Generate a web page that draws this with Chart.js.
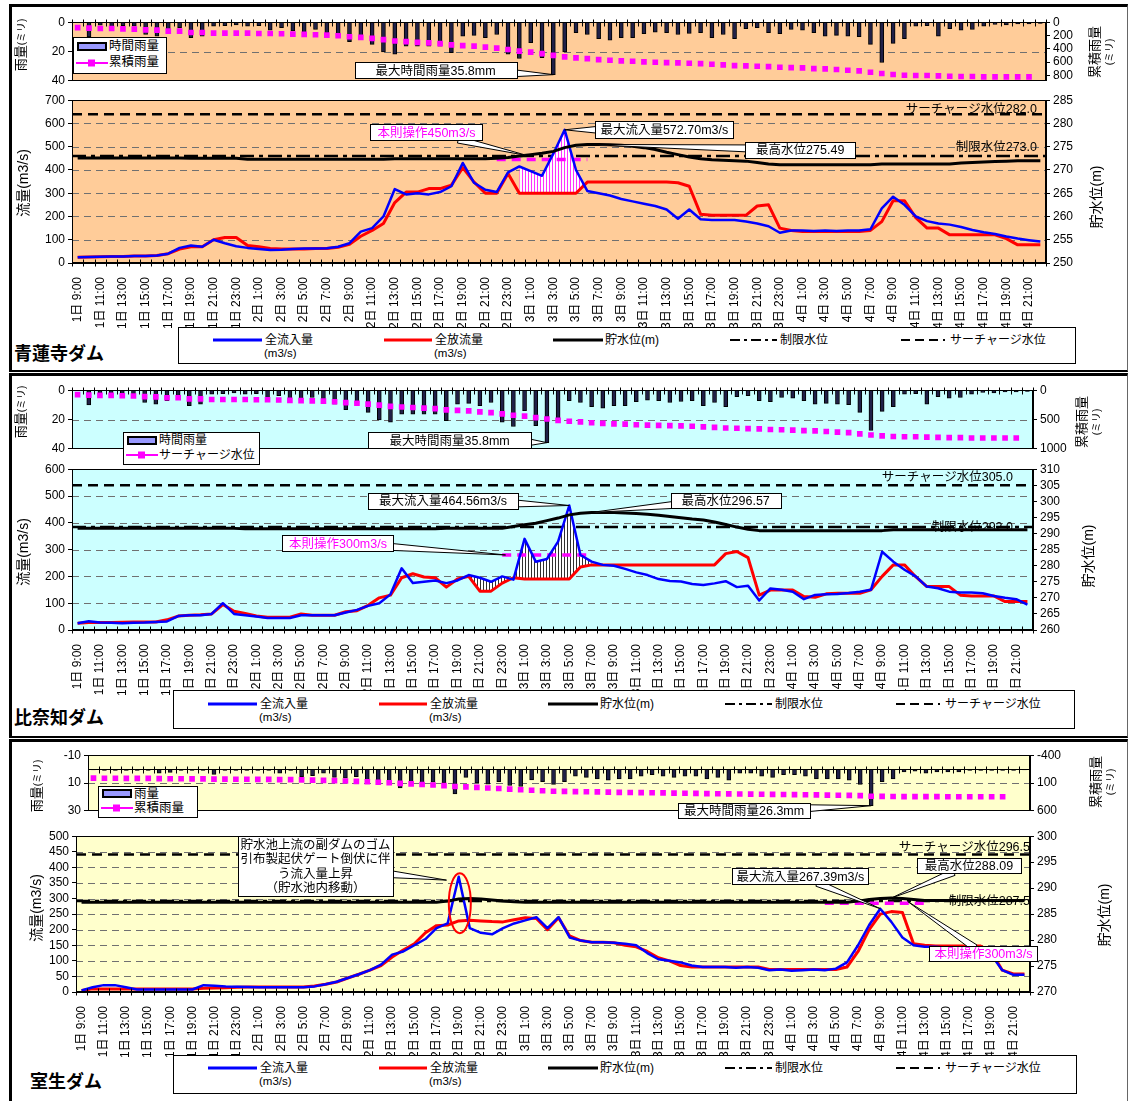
<!DOCTYPE html>
<html><head><meta charset="utf-8">
<script src="https://cdn.jsdelivr.net/npm/chart.js@4.4.1/dist/chart.umd.min.js"></script>
<style>
body{margin:0;background:#fff;width:1129px;height:1101px;position:relative;overflow:hidden;font-family:"Liberation Sans","Noto Sans CJK JP",sans-serif;}
.abs{position:absolute;white-space:nowrap;color:#000;}
.panel{position:absolute;left:9px;width:1115px;border-left:3px solid #000;border-top:3px solid #000;border-right:1px solid #666;border-bottom:2px solid #000;}
canvas{position:absolute;left:0;}
</style></head>
<body>
<div class="panel" style="top:4px;height:363px"></div>
<div class="panel" style="top:373px;height:360px"></div>
<div class="panel" style="top:739px;height:370px"></div>
<script>
// ---------------- DATA ----------------
const timeLabels = [
"1日 9:00","1日 10:00","1日 11:00","1日 12:00","1日 13:00","1日 14:00","1日 15:00","1日 16:00","1日 17:00","1日 18:00","1日 19:00","1日 20:00","1日 21:00","1日 22:00","1日 23:00",
"2日 0:00","2日 1:00","2日 2:00","2日 3:00","2日 4:00","2日 5:00","2日 6:00","2日 7:00","2日 8:00","2日 9:00","2日 10:00","2日 11:00","2日 12:00","2日 13:00","2日 14:00","2日 15:00","2日 16:00","2日 17:00","2日 18:00","2日 19:00","2日 20:00","2日 21:00","2日 22:00","2日 23:00",
"3日 0:00","3日 1:00","3日 2:00","3日 3:00","3日 4:00","3日 5:00","3日 6:00","3日 7:00","3日 8:00","3日 9:00","3日 10:00","3日 11:00","3日 12:00","3日 13:00","3日 14:00","3日 15:00","3日 16:00","3日 17:00","3日 18:00","3日 19:00","3日 20:00","3日 21:00","3日 22:00","3日 23:00",
"4日 0:00","4日 1:00","4日 2:00","4日 3:00","4日 4:00","4日 5:00","4日 6:00","4日 7:00","4日 8:00","4日 9:00","4日 10:00","4日 11:00","4日 12:00","4日 13:00","4日 14:00","4日 15:00","4日 16:00","4日 17:00","4日 18:00","4日 19:00","4日 20:00","4日 21:00","4日 22:00"
];

// 青蓮寺ダム
const shorenjiRain = [0,10,2,3,2.3,2.7,8.4,9.5,7.2,3.8, 10.6,9.5,2.7,2.3,1.8,2.7,2.3,5.4,3.8,6, 7.2,5,7.2,9.5,13.3,9.5,15.1,20.3,21.9,16.3, 16.3,16.3,16.3,20.8,9.5,9,10.6,8.4,21.9,24.8, 14,24.2,35.8,20.3,7.2,8.4,11.3,12.2,10.6,10.6, 7.9,6.8,7.2,8.4,7.7,7.2,10.6,8.4,11.3,4.5, 3.8,7.2,7.9,5,5.4,7.2,9.5,9,9.5,9.9, 15.1,27.5,14.4,11.3,2.7,2.3,9.5,4.5,5.4,5, 2.7,1.6,1.8,1.1,1.1,0.9];
const shorenjiCumRain = [81,90,95,95,100,105,115,120,135,135, 154,154,164,164,164,164,169,169,174,179, 184,189,193,203,218,228,243,262,282,292, 302,311,321,341,351,360,375,390,410,434, 449,473,498,521,536,546,561,571,581,586, 596,601,606,611,616,621,631,641,651,656, 661,666,676,681,686,696,701,711,721,731, 751,771,786,796,801,801,806,811,816,816, 821,821,821,821,821,null];
const shorenjiInflow = [25,26,27,28,28,30,30,32,40,65, 75,70,100,85,72,65,60,56,57,60, 62,62,63,70,85,135,150,200,318,295, 300,295,305,330,430,345,315,305,390,415, 395,375,470,572.7,400,310,300,290,275,265, 255,245,230,190,230,188,185,185,185,178, 170,158,130,140,140,138,140,138,140,140, 145,235,285,250,200,180,170,165,155,142, 132,125,114,105,98,92];
const shorenjiOutflow = [25,26,27,28,28,30,30,32,40,60, 70,70,100,110,110,75,70,62,60,60, 60,62,62,68,80,115,140,170,260,305, 305,320,320,335,410,348,300,300,385,300, 300,300,300,300,300,348,348,348,348,348, 348,348,348,345,330,210,205,205,205,205, 245,250,150,140,135,135,135,135,135,135, 140,178,268,268,195,150,150,121,121,121, 121,121,105,78,78,78];
const shorenjiLevel = [272.6,272.6,272.6,272.6,272.6,272.6,272.6,272.6,272.6,272.6, 272.5,272.5,272.5,272.5,272.5, 272.3,272.3,272.3,272.3,272.3,272.3,272.3,272.3,272.3,272.3,272.3,272.3,272.3, 272.4,272.4,272.4,272.4,272.4,272.4,272.4,272.4,272.4, 272.5,272.7,273.0,273.3,273.6,274.0,274.8,275.3,275.49,275.45,275.4, 275.3,275.1,274.8,274.4,273.8,273.3,272.8,272.4,272.2,272.1,272.0,271.9,271.6,271.3,271.1, 271.1,271.1,271.1,271.1,271.1,271.1,271.1,271.1, 271.3,271.3,271.3,271.3,271.3,271.3,271.3, 271.5,271.6,271.7,271.8,271.9,272.0,272.0,272.0];
const SHORENJI_SURCHARGE = 282.0, SHORENJI_LIMIT = 273.0, SHORENJI_RULE_FLOW = 445;
const shorenjiRuleSpan = [37, 45], shorenjiCutSpan = [39, 45];

// 比奈知ダム
const hinachiRain = [0,10,2,3,2.3,2.7,8.4,9.5,7.2,3.8, 10.6,9.5,2.7,2.3,1.8,2.7,2.3,5.4,3.8,6, 7.2,5,7.2,9.5,13.3,9.5,15.1,20.3,21.9,16.3, 16.3,16.3,16.3,20.8,9.5,9,10.6,8.4,21.9,24.8, 14,24.2,35.8,20.3,7.2,8.4,11.3,12.2,10.6,10.6, 7.9,6.8,7.2,8.4,7.7,7.2,10.6,8.4,11.3,4.5, 3.8,7.2,7.9,5,5.4,7.2,9.5,9,9.5,9.9, 15.1,27.5,14.4,11.3,2.7,2.3,9.5,4.5,5.4,5, 2.7,1.6,1.8,1.1,1.1,0.9];
const hinachiCumRain = [75,84,89,89,94,99,109,114,129,129, 148,148,158,158,158,158,163,163,168,173, 178,183,187,197,212,222,237,256,276,286, 296,305,315,335,345,354,369,384,404,428, 443,467,492,515,530,540,555,565,575,580, 590,595,600,605,610,615,625,635,645,650, 655,660,670,675,680,690,695,705,715,725, 745,765,780,790,795,795,800,805,810,810, 815,815,815,815,815,null];
const hinachiInflow = [25,33,28,27,25,27,28,30,32,52, 55,55,60,100,60,55,50,45,45,45, 55,55,55,55,65,75,90,100,133,230, 175,180,185,175,185,205,195,180,200,188, 340,255,265,330,464.56,280,255,243,240,228, 215,205,190,183,181,172,168,174,182,160, 165,110,155,150,143,115,131,133,134,138, 143,150,292,255,225,200,162,156,143,140, 140,137,127,120,115,95];
const hinachiOutflow = [25,28,28,28,29,30,30,30,38,52, 55,57,60,95,70,62,52,48,48,48, 60,55,55,55,68,72,92,120,130,195, 210,198,195,160,190,200,145,145,175,195, 190,190,190,190,190,235,243,243,243,243, 243,243,243,243,243,243,243,243,285,293, 270,130,149,149,149,125,122,135,137,137, 137,150,200,243,243,199,162,162,162,130, 127,127,127,106,106,106];
const hinachiLevel = [291.6,291.6,291.6,291.6,291.6,291.6,291.6,291.6,291.6,291.6,291.6,291.6,291.6,291.6,291.6, 291.5,291.5,291.5,291.5,291.5,291.5,291.5,291.5,291.5,291.5,291.5,291.5,291.5,291.5,291.5,291.5,291.5,291.5, 291.6,291.6,291.6,291.6,291.6,291.6, 292.2,292.7,293.2,294.0,294.8,295.8,296.3,296.57,296.55,296.5, 296.4,296.2,296.0,295.7,295.3,294.9,294.5,294.2,293.6,292.8,292.0,291.3,290.9, 290.9,290.9,290.9,290.9,290.9,290.9,290.9,290.9,290.9,290.9,290.9, 291.2,291.2,291.2,291.2,291.2,291.2,291.2,291.2,291.2,291.2,291.2,291.2,291.2];
const HINACHI_SURCHARGE = 305.0, HINACHI_LIMIT = 292.0, HINACHI_RULE_FLOW = 280;
const hinachiRuleSpan = [38, 46], hinachiCutSpan = [35, 46];

// 室生ダム
const murouRain = [0.5,1,1,1,1,1,3,2.4,1,1, 1,3.8,1,1,1,1,1,3,1,5.4, 4.7,3,6,6.6,5.4,7.8,8.5,9,13.6,9, 10,9.4,10,17.9,6,10,10.8,9,11.8,12.5, 7.8,9,11,9,5,6,7,8,7,7, 5,4,5,6,5,5,7,6,8,3, 3,5,6,4,4,5,7,7,7,8, 11,26.3,9,7,2,1.5,3,2,2,2, 1,1,1,1,1,0.5];
const murouCumRain = [13,14,15,16,17,18,21,23,24,25, 26,30,31,32,33,34,35,38,39,44, 49,52,58,64,70,77,86,95,108,117, 127,136,146,163,169,179,190,199,210,222, 230,239,248,252,255,258,261,265,268,271, 274,276,279,282,284,287,290,293,296,298, 299,302,304,306,308,311,314,317,320,323, 327,338,341,343,344,344,345,346,347,347, 348,348,348,348,null,null];
const murouInflow = [5,15,22,22,15,8,8,8,8,8, 8,22,20,18,17,16,15,15,15,15, 15,18,25,33,45,57,70,88,120,130, 150,170,205,220,370,205,190,185,205,220, 230,240,205,240,175,165,160,160,158,155, 150,125,105,100,95,85,80,80,80,78, 80,78,70,72,68,70,72,70,75,95, 150,215,267.39,225,175,150,145,145,142,140, 140,138,120,70,55,55];
const murouOutflow = [5,10,10,10,10,10,10,10,10,10, 10,12,13,14,15,16,16,16,16,16, 16,19,25,32,45,57,70,85,112,135, 155,190,213,215,228,230,228,226,225,232, 238,236,200,238,180,165,160,160,158,150, 145,130,110,100,85,80,80,80,80,80, 80,80,72,72,72,72,72,72,72,80, 130,200,250,258,255,155,150,148,148,148, 148,148,130,70,58,58];
const murouLevel = [287.3,287.3,287.3,287.3,287.3,287.3,287.3,287.3,287.3,287.3,287.3,287.3,287.3,287.3,287.3,287.3,287.3,287.3,287.3,287.3,287.3,287.3,287.3,287.3,287.3,287.3,287.3,287.3,287.3,287.3,287.3,287.3,287.3, 287.5,287.9,288.0,287.9,287.7,287.5,287.4, 287.3,287.3,287.3,287.3,287.3,287.3,287.3,287.3,287.3,287.3,287.3,287.3,287.3,287.3,287.3,287.3,287.3,287.3,287.3,287.3,287.3,287.3,287.3,287.3,287.3,287.3,287.3,287.3,287.3,287.3, 287.5,287.8,288.0,288.09,288.0,287.8, 287.6,287.6,287.6,287.6,287.6,287.6,287.6,287.6,287.6,287.6];
const MUROU_SURCHARGE = 296.5, MUROU_LIMIT = 287.5, MUROU_RULE_FLOW = 285;
const murouRuleSpan = [67, 76], murouCutSpan = [68, 74];

// ---------------- RENDERING ----------------
const FONT = '"Liberation Sans","Noto Sans CJK JP",sans-serif';
const W = 1129;
Chart.defaults.animation = false;
Chart.defaults.events = [];
Chart.defaults.font.family = FONT;
Chart.defaults.color = '#000';

function span(arr, r) { return arr.map((v, i) => (i >= r[0] && i <= r[1]) ? v : null); }
function constSpan(value, r) { return timeLabels.map((_, i) => (i >= r[0] && i <= r[1]) ? value : null); }

function hatch(color, bg) {
  const c = document.createElement('canvas'); c.width = 3; c.height = 2;
  const g = c.getContext('2d');
  g.fillStyle = bg; g.fillRect(0, 0, 3, 2);
  g.fillStyle = color; g.fillRect(0, 0, 1, 2);
  return g.createPattern(c, 'repeat');
}

function drawCallout(chart, c) {
  const { ctx, scales } = chart;
  const xs = scales.x, ya = scales[c.axis || 'y'], ta = scales[c.taxis || 'y'];
  const cx = xs.getPixelForValue(c.ix), cy = ya.getPixelForValue(c.v);
  const tx = xs.getPixelForValue(c.tix), ty = ta.getPixelForValue(c.tv);
  const hw = c.w / 2, hh = c.h / 2;
  ctx.save();
  ctx.setLineDash([]); ctx.lineWidth = 1; ctx.strokeStyle = '#000'; ctx.fillStyle = '#fff';
  const ang = Math.atan2(ty - cy, tx - cx);
  const ca = Math.abs(Math.cos(ang)) || 1e-9, sa = Math.abs(Math.sin(ang)) || 1e-9;
  const t = Math.min(hw / ca, hh / sa);
  const ex = cx + Math.cos(ang) * (t - 3), ey = cy + Math.sin(ang) * (t - 3);
  const bw = c.wedge || 3.5;
  const px = -Math.sin(ang) * bw, py = Math.cos(ang) * bw;
  ctx.beginPath(); ctx.moveTo(ex + px, ey + py); ctx.lineTo(tx, ty); ctx.lineTo(ex - px, ey - py); ctx.closePath();
  ctx.fill(); ctx.stroke();
  const L = Math.round(cx - hw) + 0.5, T = Math.round(cy - hh) + 0.5;
  ctx.fillRect(L, T, c.w, c.h); ctx.strokeRect(L, T, c.w, c.h);
  ctx.fillStyle = c.color || '#000';
  ctx.font = (c.size || 12.5) + 'px ' + FONT; ctx.textAlign = 'center'; ctx.textBaseline = 'middle';
  const lh = c.lh || 14, n = c.lines.length;
  c.lines.forEach((s, k) => ctx.fillText(s, cx, cy + (k - (n - 1) / 2) * lh + 1));
  ctx.restore();
}

function makeDecor(cfg) {
  return {
    id: 'decor',
    beforeDraw(chart) {
      const { ctx, chartArea: a } = chart;
      ctx.save(); ctx.fillStyle = cfg.bg; ctx.fillRect(a.left, a.top, a.right - a.left, a.bottom - a.top); ctx.restore();
    },
    beforeDatasetsDraw(chart) {
      const { ctx, chartArea: a, scales } = chart;
      ctx.save();
      ctx.strokeStyle = '#707070'; ctx.lineWidth = 1; ctx.setLineDash([7, 5]);
      scales.y.ticks.forEach(tk => {
        const y = Math.round(scales.y.getPixelForValue(tk.value)) + 0.5;
        if (y <= a.top + 2 || y >= a.bottom - 2) return;
        ctx.beginPath(); ctx.moveTo(a.left, y); ctx.lineTo(a.right, y); ctx.stroke();
      });
      (cfg.refLines || []).forEach(r => {
        const y = scales[r.axis].getPixelForValue(r.value);
        ctx.setLineDash(r.dash); ctx.lineWidth = r.width; ctx.strokeStyle = '#000';
        ctx.beginPath(); ctx.moveTo(a.left, y); ctx.lineTo(a.right, y); ctx.stroke();
      });
      ctx.setLineDash([]);
      (cfg.refTexts || []).forEach(r => {
        const y = scales[r.axis].getPixelForValue(r.value) + r.dy;
        ctx.font = '12.5px ' + FONT; ctx.fillStyle = '#000'; ctx.textAlign = 'right'; ctx.textBaseline = 'middle';
        ctx.fillText(r.text, a.right - r.dxRight, y);
      });
      ctx.restore();
    },
    afterDatasetsDraw(chart) {
      const { ctx, chartArea: a, scales } = chart;
      ctx.save();
      ctx.setLineDash([]); ctx.strokeStyle = '#000'; ctx.lineWidth = 1;
      ctx.strokeRect(Math.round(a.left) + 0.5, Math.round(a.top) + 0.5, Math.round(a.right - a.left) - 1, Math.round(a.bottom - a.top) - 1);
      const xs = scales.x, n = timeLabels.length;
      const half = (xs.getPixelForValue(1) - xs.getPixelForValue(0)) / 2;
      const y0 = cfg.rain ? Math.round(scales.y.getPixelForValue(0)) + 0.5 : Math.round(a.bottom) - 0.5;
      ctx.beginPath();
      ctx.moveTo(a.left, y0); ctx.lineTo(a.right, y0);
      for (let i = 0; i <= n; i++) {
        const x = Math.round(xs.getPixelForValue(i) - half) + 0.5;
        ctx.moveTo(x, y0 - 3); ctx.lineTo(x, y0 + 4);
      }
      ctx.stroke();
      ctx.restore();
      (cfg.ellipses || []).forEach(e => {
        const cx = xs.getPixelForValue(e.ix), cy = scales.y.getPixelForValue(e.v);
        ctx.save(); ctx.strokeStyle = '#ff0000'; ctx.lineWidth = 2; ctx.setLineDash([]);
        ctx.beginPath(); ctx.ellipse(cx, cy, e.rx, e.ry, 0, 0, Math.PI * 2); ctx.stroke(); ctx.restore();
      });
      (cfg.callouts || []).forEach(c => drawCallout(chart, c));
    }
  };
}

function addCanvas(g) {
  const cv = document.createElement('canvas');
  cv.width = W; cv.height = g.h;
  cv.style.top = g.top + 'px'; cv.style.width = W + 'px'; cv.style.height = g.h + 'px';
  document.body.appendChild(cv);
  return cv;
}

function yAxis(pos, g, min, max, step, reverse) {
  return {
    position: pos, min: min, max: max, reverse: !!reverse,
    ticks: { stepSize: step, includeBounds: false, autoSkip: false, font: { size: 12, family: FONT }, color: '#000', padding: 3,
             callback: v => String(v) },
    grid: { drawOnChartArea: false, drawTicks: true, tickLength: 4, color: '#000' },
    border: { display: true, color: '#000' },
    afterFit: s => { s.width = pos === 'left' ? g.left : (W - g.right); }
  };
}

function buildRain(g, d) {
  const cv = addCanvas(g);
  new Chart(cv, {
    type: 'bar',
    data: {
      labels: timeLabels,
      datasets: [
        { type: 'line', label: d.cumLabel, data: d.cum, yAxisID: 'y2', showLine: false, pointStyle: 'rect', pointRadius: 4, pointBackgroundColor: '#ff00ff', pointBorderColor: '#ff00ff', pointBorderWidth: 0, order: 1 },
        { type: 'bar', label: d.rainLabel, data: d.rain, yAxisID: 'y', backgroundColor: '#202048', borderColor: '#000', borderWidth: 1, barThickness: 4, order: 2 }
      ]
    },
    options: {
      responsive: false, maintainAspectRatio: false,
      layout: { padding: { top: 10, bottom: 10, left: 0, right: 0 } },
      plugins: { legend: { display: false }, tooltip: { enabled: false } },
      scales: {
        x: { display: false, offset: true },
        y: yAxis('left', g, d.yMin, d.yMax, d.yStep, true),
        y2: yAxis('right', g, d.y2Min, d.y2Max, d.y2Step, true)
      }
    },
    plugins: [makeDecor({ bg: d.bg, rain: true, callouts: d.callouts })]
  });
}

function buildFlow(g, d) {
  const cv = addCanvas(g);
  const pat = hatch(d.hatchColor, '#ffffff');
  new Chart(cv, {
    type: 'line',
    data: {
      labels: timeLabels,
      datasets: [
        { label: 'cut', data: span(d.inflow, d.cutSpan), yAxisID: 'y', borderColor: 'rgba(0,0,0,0)', borderWidth: 1, pointRadius: 0, backgroundColor: pat, fill: { target: 2, above: pat, below: 'rgba(0,0,0,0)' }, order: 10 },
        { label: '本則操作', data: constSpan(d.ruleFlow, d.ruleSpan), yAxisID: 'y', borderColor: '#ff00ff', borderWidth: 3.5, borderDash: [9, 6], pointRadius: 0, fill: false, order: 6 },
        { label: '全放流量', data: d.outflow, yAxisID: 'y', borderColor: '#ff0000', borderWidth: 3, pointRadius: 0, fill: false, borderJoinStyle: 'round', order: 3 },
        { label: '全流入量', data: d.inflow, yAxisID: 'y', borderColor: '#0000ff', borderWidth: 2.5, pointRadius: 0, fill: false, borderJoinStyle: 'round', order: 2 },
        { label: '貯水位', data: d.level, yAxisID: 'y2', borderColor: '#000', borderWidth: 3, pointRadius: 0, fill: false, borderJoinStyle: 'round', order: 1 }
      ]
    },
    options: {
      responsive: false, maintainAspectRatio: false,
      layout: { padding: { top: 10, bottom: 0, left: 0, right: 0 } },
      plugins: { legend: { display: false }, tooltip: { enabled: false } },
      scales: {
        x: {
          type: 'category', offset: true,
          grid: { display: false },
          border: { display: true, color: '#000' },
          ticks: { autoSkip: false, minRotation: 90, maxRotation: 90, padding: 6, font: { size: 12, family: FONT }, color: '#000',
                   callback: (v, i) => (i % 2 === 0 ? timeLabels[i] : '') },
          afterFit: s => { s.height = g.xh; }
        },
        y: yAxis('left', g, d.yMin, d.yMax, d.yStep, false),
        y2: yAxis('right', g, d.y2Min, d.y2Max, d.y2Step, false)
      }
    },
    plugins: [makeDecor({ bg: d.bg, rain: false, refLines: d.refLines, refTexts: d.refTexts, callouts: d.callouts, ellipses: d.ellipses })]
  });
}

const SUR_DASH = [10, 6], LIM_DASH = [14, 5, 4, 5];

// ---- Panel 1: 青蓮寺ダム ----
buildRain({ top: 12, h: 79, left: 72, right: 1046 }, {
  bg: '#FFCC99', rain: shorenjiRain, cum: shorenjiCumRain, rainLabel: '時間雨量', cumLabel: '累積雨量',
  yMin: 0, yMax: 40, yStep: 20, y2Min: 0, y2Max: 880, y2Step: 200,
  callouts: [{ lines: ['最大時間雨量35.8mm'], ix: 31.6, v: 32.9, w: 162, h: 16, tix: 42, tv: 35.8 }]
});
buildFlow({ top: 90, h: 243, left: 72, right: 1046, xh: 70 }, {
  bg: '#FFCC99', inflow: shorenjiInflow, outflow: shorenjiOutflow, level: shorenjiLevel,
  cutSpan: shorenjiCutSpan, ruleSpan: shorenjiRuleSpan, ruleFlow: SHORENJI_RULE_FLOW, hatchColor: '#ff33ff',
  yMin: 0, yMax: 700, yStep: 100, y2Min: 250, y2Max: 285, y2Step: 5,
  refLines: [{ axis: 'y2', value: SHORENJI_SURCHARGE, dash: SUR_DASH, width: 2.5 }, { axis: 'y2', value: SHORENJI_LIMIT, dash: LIM_DASH, width: 2.5 }],
  refTexts: [{ text: 'サーチャージ水位' + SHORENJI_SURCHARGE.toFixed(1), axis: 'y2', value: SHORENJI_SURCHARGE, dy: -5, dxRight: 9 },
             { text: '制限水位' + SHORENJI_LIMIT.toFixed(1), axis: 'y2', value: SHORENJI_LIMIT, dy: -8, dxRight: 9 }],
  callouts: [
    { lines: ['本則操作450m3/s'], color: '#ff00ff', ix: 30.8, v: 562, w: 112, h: 16, tix: 39.7, tv: 462 },
    { lines: ['最大流入量572.70m3/s'], ix: 51.8, v: 573, w: 138, h: 17, tix: 43, tv: 572.7 },
    { lines: ['最高水位275.49'], ix: 63.8, v: 487, w: 110, h: 16, tix: 45, tv: 275.49, taxis: 'y2' }
  ]
});

// ---- Panel 2: 比奈知ダム ----
buildRain({ top: 380, h: 79, left: 72, right: 1033 }, {
  bg: '#CCFFFF', rain: hinachiRain, cum: hinachiCumRain, rainLabel: '時間雨量', cumLabel: 'サーチャージ水位',
  yMin: 0, yMax: 40, yStep: 20, y2Min: 0, y2Max: 1000, y2Step: 500,
  callouts: [{ lines: ['最大時間雨量35.8mm'], ix: 33.3, v: 34.2, w: 163, h: 16, tix: 42, tv: 35.8 }]
});
buildFlow({ top: 459, h: 241, left: 72, right: 1033, xh: 70 }, {
  bg: '#CCFFFF', inflow: hinachiInflow, outflow: hinachiOutflow, level: hinachiLevel,
  cutSpan: hinachiCutSpan, ruleSpan: hinachiRuleSpan, ruleFlow: HINACHI_RULE_FLOW, hatchColor: '#303030',
  yMin: 0, yMax: 600, yStep: 100, y2Min: 260, y2Max: 310, y2Step: 5,
  refLines: [{ axis: 'y2', value: HINACHI_SURCHARGE, dash: SUR_DASH, width: 2.5 }, { axis: 'y2', value: HINACHI_LIMIT, dash: LIM_DASH, width: 2.5 }],
  refTexts: [{ text: 'サーチャージ水位' + HINACHI_SURCHARGE.toFixed(1), axis: 'y2', value: HINACHI_SURCHARGE, dy: -8, dxRight: 20 },
             { text: '制限水位' + HINACHI_LIMIT.toFixed(1), axis: 'y2', value: HINACHI_LIMIT, dy: 0, dxRight: 20 }],
  callouts: [
    { lines: ['最大流入量464.56m3/s'], ix: 32.7, v: 482.7, w: 150, h: 16, tix: 44, tv: 464.56 },
    { lines: ['最高水位296.57'], ix: 58, v: 484.5, w: 110, h: 15, tix: 46, tv: 296.57, taxis: 'y2' },
    { lines: ['本則操作300m3/s'], color: '#ff00ff', ix: 23.3, v: 324, w: 111, h: 16, tix: 38.3, tv: 280 }
  ]
});

// ---- Panel 3: 室生ダム ----
buildRain({ top: 745, h: 76, left: 88, right: 1030 }, {
  bg: '#FFFFCC', rain: murouRain, cum: murouCumRain, rainLabel: '雨量', cumLabel: '累積雨量',
  yMin: -10, yMax: 30, yStep: 20, y2Min: -400, y2Max: 600, y2Step: 500,
  callouts: [{ lines: ['最大時間雨量26.3mm'], ix: 59.4, v: 30, w: 132, h: 15, tix: 71, tv: 26.3 }]
});
buildFlow({ top: 826, h: 236, left: 76, right: 1030, xh: 70 }, {
  bg: '#FFFFCC', inflow: murouInflow, outflow: murouOutflow, level: murouLevel,
  cutSpan: murouCutSpan, ruleSpan: murouRuleSpan, ruleFlow: MUROU_RULE_FLOW, hatchColor: '#ff33ff',
  yMin: 0, yMax: 500, yStep: 50, y2Min: 270, y2Max: 300, y2Step: 5,
  refLines: [{ axis: 'y2', value: MUROU_SURCHARGE, dash: SUR_DASH, width: 2.5 }, { axis: 'y2', value: MUROU_LIMIT, dash: LIM_DASH, width: 2.5 }],
  refTexts: [{ text: 'サーチャージ水位' + MUROU_SURCHARGE.toFixed(1), axis: 'y2', value: MUROU_SURCHARGE, dy: -7, dxRight: 0 },
             { text: '制限水位' + MUROU_LIMIT.toFixed(1), axis: 'y2', value: MUROU_LIMIT, dy: 0, dxRight: 0 }],
  ellipses: [{ ix: 34.1, v: 285, rx: 11, ry: 30 }],
  callouts: [
    { lines: ['貯水池上流の副ダムのゴム', '引布製起伏ゲート倒伏に伴', 'う流入量上昇', '（貯水池内移動）'], ix: 21.1, v: 404, w: 155, h: 60, tix: 32.9, tv: 359, lh: 14.5 },
    { lines: ['最大流入量267.39m3/s'], ix: 64.8, v: 372, w: 136, h: 16, tix: 72, tv: 267.39 },
    { lines: ['最高水位288.09'], ix: 80, v: 405, w: 104, h: 15, tix: 73, tv: 288.09, taxis: 'y2' },
    { lines: ['本則操作300m3/s'], color: '#ff00ff', ix: 81.3, v: 123, w: 108, h: 15, tix: 74.5, tv: 290 }
  ]
});

// ---------------- HTML TEXT (titles, legends) ----------------
function addDiv(html, css) {
  const d = document.createElement('div'); d.className = 'abs'; d.innerHTML = html;
  Object.assign(d.style, css); d.style.zIndex = 5; document.body.appendChild(d); return d;
}
function vTitle(html, x, y, size) {
  addDiv(html, { left: x + 'px', top: y + 'px', fontSize: size + 'px', lineHeight: '1.1', textAlign: 'center', transform: 'translate(-50%,-50%) rotate(-90deg)' });
}
function lineSvg(x1, x2, y, color, width, dash) {
  addDiv('<svg width="' + (x2 - x1) + '" height="10"><line x1="0" y1="5" x2="' + (x2 - x1) + '" y2="5" stroke="' + color + '" stroke-width="' + width + '"' + (dash ? ' stroke-dasharray="' + dash + '"' : '') + '/></svg>',
    { left: x1 + 'px', top: (y - 5) + 'px', lineHeight: '0' });
}
function txt(s, x, y, size, extra) { addDiv(s, Object.assign({ left: x + 'px', top: (y - size * 0.6) + 'px', fontSize: size + 'px', lineHeight: (size * 1.2) + 'px' }, extra || {})); }
function box(x, y, w, h) { addDiv('', { left: x + 'px', top: y + 'px', width: w + 'px', height: h + 'px', border: '1px solid #000', background: '#fff' }); }

function bottomLegend(bx, by, bw, bh, dx, r1, r2) {
  box(bx, by, bw, bh);
  lineSvg(213 + dx, 262 + dx, r1, '#0000ff', 3); txt('全流入量', 265 + dx, r1, 12); txt('(m3/s)', 264 + dx, r2, 11.5);
  lineSvg(384 + dx, 432 + dx, r1, '#ff0000', 3); txt('全放流量', 435 + dx, r1, 12); txt('(m3/s)', 434 + dx, r2, 11.5);
  lineSvg(553 + dx, 603 + dx, r1, '#000', 3); txt('貯水位(m)', 605 + dx, r1, 12);
  lineSvg(730 + dx, 777 + dx, r1, '#000', 2, '10 4 3 4'); txt('制限水位', 780 + dx, r1, 12);
  lineSvg(901 + dx, 945 + dx, r1, '#000', 2, '9 5'); txt('サーチャージ水位', 950 + dx, r1, 12);
}
function rainLegend(bx, by, bw, bh, l1, l2, fs) {
  box(bx, by, bw, bh);
  const r1 = by + bh * 0.28, r2 = by + bh * 0.74;
  addDiv('<svg width="30" height="10"><rect x="1" y="1" width="28" height="7" fill="#9999ff" stroke="#000" stroke-width="2"/></svg>', { left: (bx + 4) + 'px', top: (r1 - 5) + 'px', lineHeight: '0' });
  txt(l1, bx + 36, r1, fs);
  addDiv('<svg width="32" height="10"><line x1="0" y1="5" x2="32" y2="5" stroke="#ff00ff" stroke-width="2"/><rect x="12" y="1.5" width="7" height="7" fill="#ff00ff"/></svg>', { left: (bx + 3) + 'px', top: (r2 - 5) + 'px', lineHeight: '0' });
  txt(l2, bx + 36, r2, fs);
}
const small = s => '<span style="font-size:10px">' + s + '</span>';

// Panel 1
vTitle('雨量' + small('(ミリ)'), 21, 45, 13);
vTitle('流量(m3/s)', 24, 183, 14);
vTitle('累積雨量<br>' + small('(ミリ)'), 1102, 52, 13);
vTitle('貯水位(m)', 1097, 197, 14);
rainLegend(73, 37, 92, 35, '時間雨量', '累積雨量', 12.5);
bottomLegend(178, 327, 896, 35, 0, 340, 354);
addDiv('青蓮寺ダム', { left: '14px', top: '340px', fontSize: '18px', fontWeight: 'bold', lineHeight: '24px', fontFamily: '"Noto Sans CJK JP"' });

// Panel 2
vTitle('雨量' + small('(ミリ)'), 21, 412, 13);
vTitle('流量(m3/s)', 24, 552, 14);
vTitle('累積雨量<br>' + small('(ミリ)'), 1089, 422, 13);
vTitle('貯水位(m)', 1089, 556, 14);
rainLegend(123, 432, 135, 31, '時間雨量', 'サーチャージ水位', 12);
bottomLegend(173, 690, 900, 37, -5, 704, 718);
addDiv('比奈知ダム', { left: '14px', top: '704px', fontSize: '18px', fontWeight: 'bold', lineHeight: '24px', fontFamily: '"Noto Sans CJK JP"' });

// Panel 3
vTitle('雨量' + small('(ミリ)'), 37, 786, 13);
vTitle('流量(m3/s)', 37, 908, 14);
vTitle('累積雨量<br>' + small('(ミリ)'), 1103, 782, 13);
vTitle('貯水位(m)', 1105, 915, 14);
rainLegend(98, 786, 98, 30, '雨量', '累積雨量', 12.5);
bottomLegend(173, 1055, 902, 37, -5, 1068, 1082);
addDiv('室生ダム', { left: '30px', top: '1068px', fontSize: '18px', fontWeight: 'bold', lineHeight: '24px', fontFamily: '"Noto Sans CJK JP"' });
</script>
</body></html>
